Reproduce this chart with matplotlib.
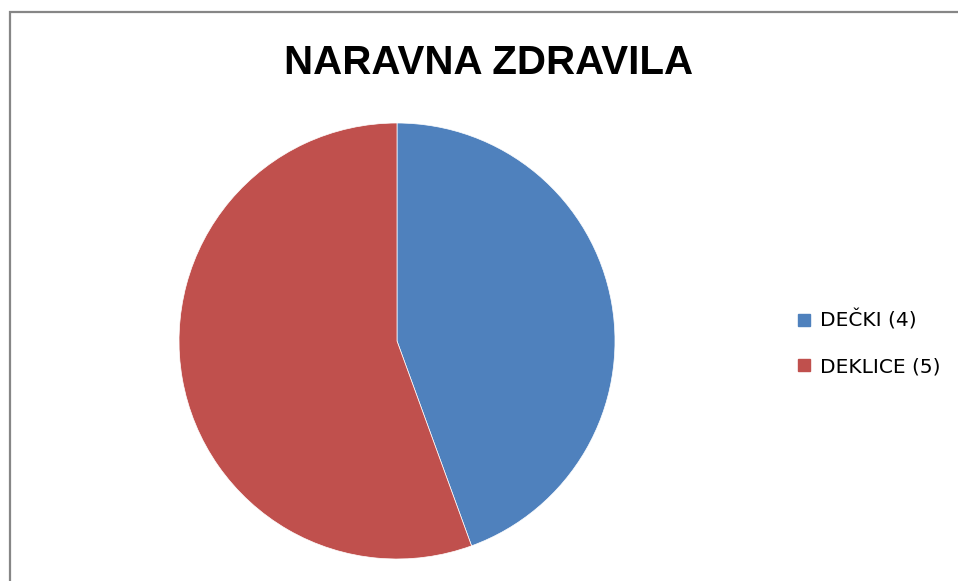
import matplotlib.pyplot as plt
from matplotlib.patches import Rectangle
from matplotlib.lines import Line2D

labels = ['DEČKI (4)', 'DEKLICE (5)']
values = [4, 5]
colors = ['#4F81BD', '#C0504D']

W, H = 958, 581
fig = plt.figure(figsize=(W / 100, H / 100), dpi=100)

# outer chart border (only left and top visible)
fig.patches.append(Rectangle((9.5 / W, -0.1), 1.2, (H - 11.5) / H + 0.1,
                             transform=fig.transFigure, fill=False,
                             edgecolor='#868686', linewidth=1.6))

cx, cy, r = 397, 341, 218
ax = fig.add_axes([(cx - r) / W, (H - cy - r) / H, 2 * r / W, 2 * r / H])
ax.pie(values, colors=colors, startangle=90, counterclock=False,
       wedgeprops=dict(edgecolor='white', linewidth=0.5))
ax.set_xlim(-1, 1)
ax.set_ylim(-1, 1)
ax.set_aspect('equal')

fig.text(489 / W, 1 - 63 / H, 'NARAVNA ZDRAVILA', ha='center', va='center',
         fontsize=29, fontweight='bold',
         family=['Liberation Sans Narrow', 'Liberation Sans', 'DejaVu Sans'])

handles = [Line2D([], [], marker='s', linestyle='none', markersize=9,
                  markerfacecolor=c, markeredgecolor=c) for c in colors]
fig.legend(handles, labels, loc='center left',
           bbox_to_anchor=(786 / W, 1 - 343 / H), frameon=False,
           fontsize=14.5, handletextpad=0.3, labelspacing=1.3,
           handlelength=1.0, borderaxespad=0)

fig.savefig('out.png', dpi=100)
